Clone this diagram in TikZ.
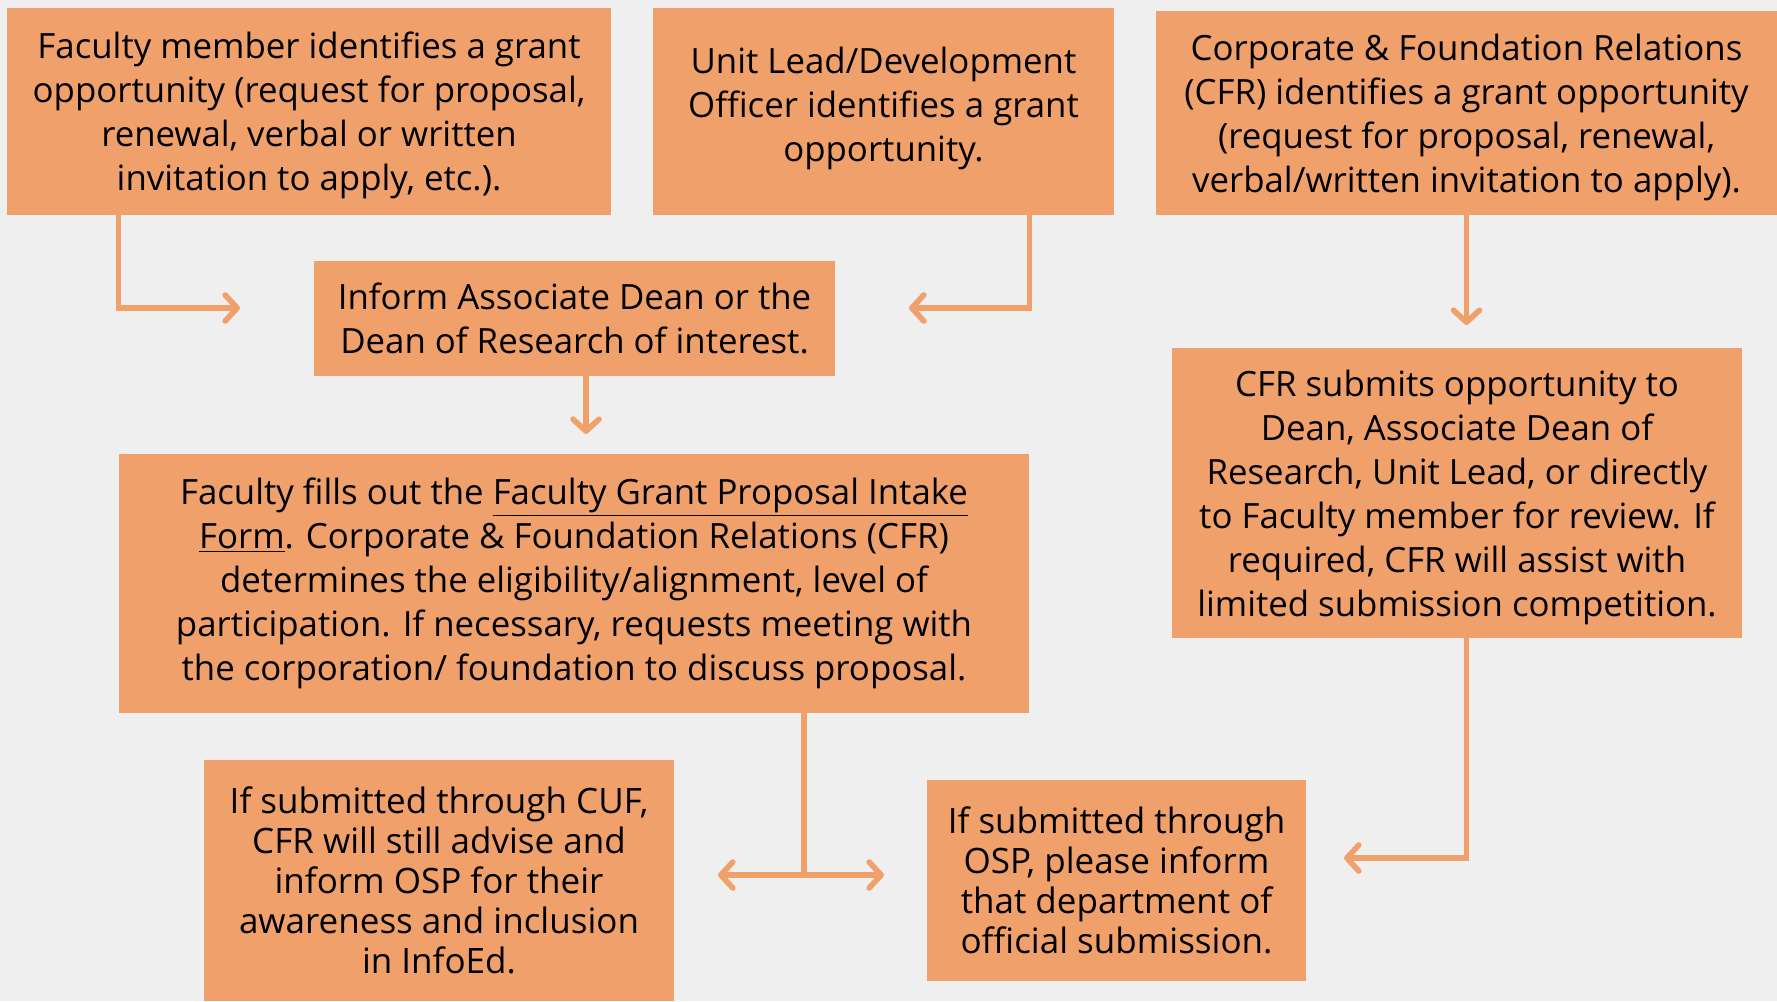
\documentclass[tikz,border=0pt]{standalone}
\usepackage{fontspec}
\setmainfont{Open Sans}
\usetikzlibrary{arrows.meta}
\definecolor{boxfill}{HTML}{F0A16B}
\definecolor{bgcol}{HTML}{EFEFEF}

\begin{document}
\begin{tikzpicture}[x=0.5pt, y=-0.5pt,
  every node/.style={fill=boxfill, align=center, inner sep=0pt, font=\fontsize{17.4}{22}\selectfont},
  small/.style={font=\fontsize{17.5}{20}\selectfont},
  link/.style={draw=boxfill, line width=2.8pt},
  arr/.style={link, -{Straight Barb[length=6pt,width=13pt,round]}}]
\fill[bgcol] (0,0) rectangle (1777,1001);
\useasboundingbox (0,0) rectangle (1777,1001);

% top row
\node (fac) [minimum width=302pt, minimum height=103.5pt] at (309,111.5)
  {\rule{0pt}{17pt}Faculty member identifies a grant\\opportunity (request for proposal,\\renewal, verbal or written\\invitation to apply, etc.).};
\node (unit) [minimum width=230.5pt, minimum height=103.5pt] at (883.5,111.5)
  {Unit Lead/Development\\Officer identifies a grant\\opportunity.\\[-15pt]\mbox{}};
\node (cfr) [minimum width=310.5pt, minimum height=102pt] at (1466.5,113)
  {\rule{0pt}{17.5pt}Corporate \& Foundation Relations\\(CFR) identifies a grant opportunity\\(request for proposal, renewal,\\verbal/written invitation to apply).};

% middle
\node (inform) [minimum width=260.5pt, minimum height=57.5pt] at (574.5,318.5)
  {Inform Associate Dean or the\\Dean of Research of interest.};
\node (intake) [minimum width=455pt, minimum height=129.5pt] at (574,583.5)
  {Faculty fills out the \underline{Faculty Grant Proposal Intake}\\\underline{Form}. Corporate \& Foundation Relations (CFR)\\determines the eligibility/alignment, level of\\participation. If necessary, requests meeting with\\the corporation/ foundation to discuss proposal.};
\node (submit) [minimum width=285pt, minimum height=145pt] at (1457,493)
  {\rule{0pt}{18pt}CFR submits opportunity to\\Dean, Associate Dean of\\Research, Unit Lead, or directly\\to Faculty member for review. If\\required, CFR will assist with\\limited submission competition.};

% bottom row
\node (cuf) [small, minimum width=235pt, minimum height=120.5pt] at (439,880.5)
  {If submitted through CUF,\\CFR will still advise and\\inform OSP for their\\awareness and inclusion\\in InfoEd.};
\node (osp) [small, minimum width=189.5pt, minimum height=100.5pt] at (1116.5,880.5)
  {If submitted through\\OSP, please inform\\that department of\\official submission.};

% arrow ends
\coordinate (a1) at (240,308);
\coordinate (a2) at (909,308);
\coordinate (a3) at (1466.5,325);
\coordinate (a4) at (586,434);
\coordinate (fork) at (804,875);
\coordinate (a5) at (718,875);
\coordinate (a6) at (884,875);
\coordinate (a7) at (1344,858);

\draw[arr] ([xshift=56pt]fac.south west) |- (a1);
\draw[arr] ([xshift=-42.5pt]unit.south east) |- (a2);
\draw[arr] (cfr.south) -- (a3);
\draw[arr] (inform.south -| a4) -- (a4);
\draw[link] (intake.south -| fork) -- (fork);
\draw[arr] (fork) -- (a5);
\draw[arr] (fork) -- (a6);
\draw[arr] (submit.south -| cfr.south) |- (a7);
\end{tikzpicture}
\end{document}
